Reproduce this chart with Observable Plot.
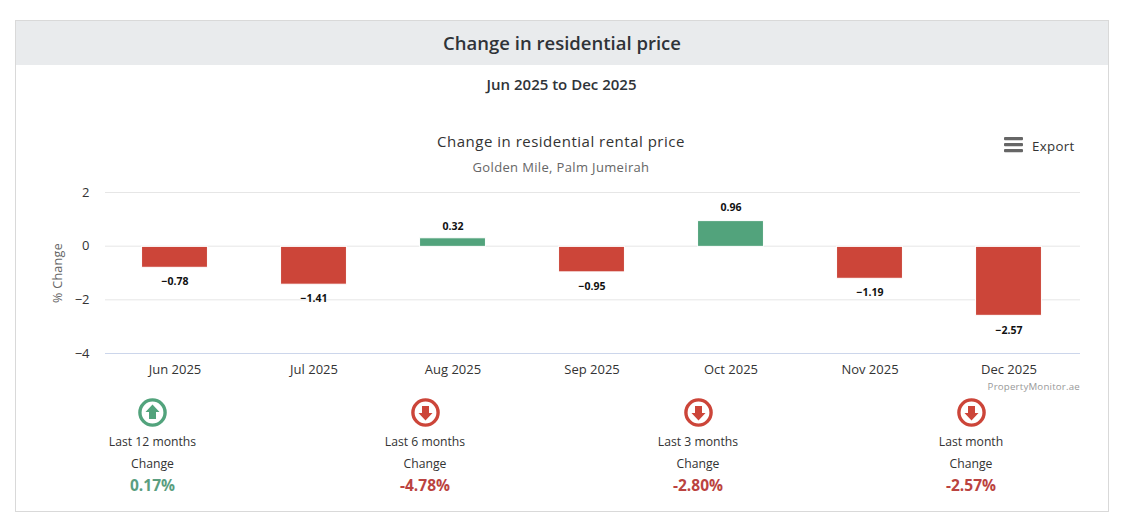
<!DOCTYPE html>
<html>
<head>
<meta charset="utf-8">
<script src="https://cdn.jsdelivr.net/npm/d3@7"></script>
<script src="https://cdn.jsdelivr.net/npm/@observablehq/plot@0.6"></script>
<style>
html,body{margin:0;padding:0;background:#fff;width:1125px;height:531px;overflow:hidden;font-family:"Open Sans","Noto Sans",sans-serif;color:#333}
.abs{position:absolute;white-space:nowrap}
.c{transform:translateX(-50%)}
#card{position:absolute;left:15px;top:20px;width:1092px;height:490px;border:1px solid #d9d9d9;box-sizing:content-box}
#head{position:absolute;left:16px;top:21px;width:1092px;height:44px;background:#e9ebed;text-align:center;font-size:18.5px;font-weight:600;line-height:44px;color:#2f3338}
#chart{position:absolute;left:-1px;top:170px}
#chart svg{display:block;overflow:visible}
</style>
</head>
<body>
<div id="card"></div>
<div id="head">Change in residential price</div>
<div class="abs c" style="left:561.5px;top:74px;font-size:15px;font-weight:600;color:#2f3338">Jun 2025 to Dec 2025</div>
<div class="abs c" style="left:561px;top:131px;font-size:15px;letter-spacing:.5px;color:#333">Change in residential rental price</div>
<div class="abs c" style="left:561px;top:158px;font-size:13px;letter-spacing:.35px;color:#666">Golden Mile, Palm Jumeirah</div>
<svg class="abs" style="left:1004px;top:137px" width="19" height="16"><g fill="#666"><rect x="0" y="0" width="19" height="3.2" rx="1"/><rect x="0" y="6" width="19" height="3.2" rx="1"/><rect x="0" y="12" width="19" height="3.2" rx="1"/></g></svg>
<div class="abs" style="left:1032px;top:137px;font-size:13.3px;color:#333;letter-spacing:.3px">Export</div>
<div id="chart"></div>
<div class="abs" style="right:45px;top:380px;font-size:9.7px;color:#999;letter-spacing:.2px">PropertyMonitor.ae</div>
<div id="stats"></div>
<script>
const months = ["Jun 2025","Jul 2025","Aug 2025","Sep 2025","Oct 2025","Nov 2025","Dec 2025"];
const changes = [-0.78,-1.41,0.32,-0.95,0.96,-1.19,-2.57];
const yTicks = [-4,-2,0,2];
const statLabels = ["Last 12 months","Last 6 months","Last 3 months","Last month"];
const statValues = ["0.17%","-4.78%","-2.80%","-2.57%"];
const statCenters = [152.5,425,698,971];
const GREEN = "#52a37c", RED = "#cc4539";

const rows = months.map((m,i)=>({month:m,value:changes[i]}));
const fmt = d3.format(".2f");
const tickFmt = d3.format("d");

const plot = Plot.plot({
  width:1125, height:230,
  marginLeft:106, marginRight:44, marginTop:22, marginBottom:47,
  style:{fontFamily:'"Open Sans","Noto Sans",sans-serif',background:"transparent",overflow:"visible"},
  x:{type:"band",domain:months,range:[106,1079],paddingInner:0.526,paddingOuter:0.263,round:false,label:null},
  y:{domain:[-4,2],label:null},
  marks:[
    Plot.ruleY(yTicks.filter(t=>t>-4),{stroke:"#e6e6e6",strokeWidth:1}),
    Plot.ruleY([-4],{stroke:"#ccd6eb",strokeWidth:1.2}),
    Plot.barY(rows,{x:"month",y:"value",fill:d=>d.value<0?RED:GREEN,stroke:"#fff",strokeWidth:1,dy:0.7}),
    Plot.text(rows.filter(d=>d.value<0),{x:"month",y:"value",text:d=>fmt(d.value),dy:15,fontSize:10.5,fontWeight:700,fill:"#111"}),
    Plot.text(rows.filter(d=>d.value>=0.5),{x:"month",y:"value",text:d=>fmt(d.value),dy:-12.5,fontSize:10.5,fontWeight:700,fill:"#111"}),
    Plot.text(rows.filter(d=>d.value>=0&&d.value<0.5),{x:"month",y:"value",text:d=>fmt(d.value),dy:-10.5,fontSize:10.5,fontWeight:700,fill:"#111"}),
    Plot.axisY({ticks:yTicks,tickFormat:tickFmt,tickSize:0,tickPadding:0,dx:-16,fontSize:13,fill:"#333",label:null}),
    Plot.axisX({tickSize:0,tickPadding:0,dy:11,fontSize:13,fill:"#333",label:null,letterSpacing:"0.2px"})
  ]
});
document.getElementById("chart").appendChild(plot);

d3.select("#chart").append("div").attr("class","abs")
  .style("left","58px").style("top","103px").style("font-size","12.5px").style("color","#666").style("letter-spacing",".3px")
  .style("transform","translate(-50%,-50%) rotate(-90deg)").text("% Change");

const stats = d3.select("#stats");
statLabels.forEach((lab,i)=>{
  const up = !statValues[i].startsWith("-");
  const col = up ? GREEN : RED;
  const vcol = up ? "#5a9e80" : "#bb4340";
  const cx = statCenters[i];
  const arrow = up ? "M14.5 6.5 L21.5 14 L18 14 L18 21 L11 21 L11 14 L7.5 14 Z"
                   : "M14.5 22.5 L21.5 15 L18 15 L18 8 L11 8 L11 15 L7.5 15 Z";
  stats.append("svg").attr("class","abs").style("left",(cx-14.5)+"px").style("top","398px")
    .attr("width",29).attr("height",29)
    .html(`<circle cx="14.5" cy="14.5" r="12.6" fill="none" stroke="${col}" stroke-width="3.4"/><path d="${arrow}" fill="${col}"/>`);
  stats.append("div").attr("class","abs c").style("left",cx+"px").style("top","433px").style("font-size","12.2px").style("color","#333").text(lab);
  stats.append("div").attr("class","abs c").style("left",cx+"px").style("top","455px").style("font-size","12.2px").style("color","#333").text("Change");
  stats.append("div").attr("class","abs c").style("left",cx+"px").style("top","474px").style("font-size","15.5px").style("font-weight","700").style("color",vcol).text(statValues[i]);
});
</script>
</body>
</html>
